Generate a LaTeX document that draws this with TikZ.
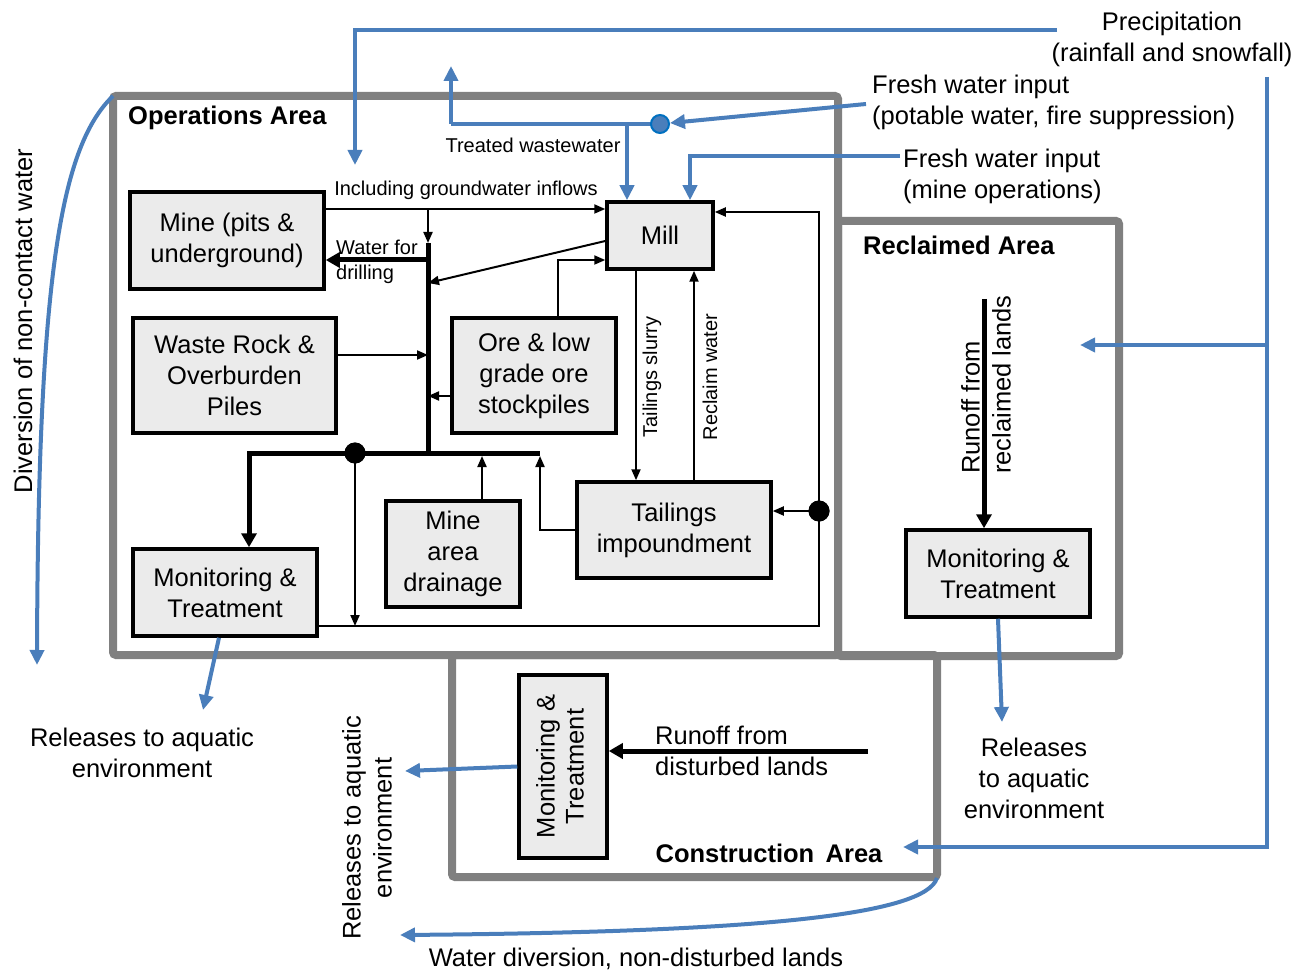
\documentclass[tikz,border=0pt]{standalone}
\usepackage{fontspec}
\setmainfont{Liberation Sans}
\usetikzlibrary{arrows.meta}
\definecolor{flowblue}{RGB}{74,126,187}
\definecolor{areagray}{RGB}{128,128,128}
\definecolor{boxfill}{RGB}{235,235,235}
\definecolor{valveedge}{RGB}{0,112,192}
\begin{document}
\begin{tikzpicture}[x=1pt, y=-1pt,
  font=\fontsize{25.5}{31}\selectfont,
  area/.style={draw=areagray, line width=8pt, rounded corners=3pt},
  stage/.style={draw=black, line width=3.5pt, fill=boxfill, align=center, inner sep=0pt},
  flow/.style={line width=2pt, -{Triangle[length=11pt,width=9pt]}},
  bus/.style={line width=5pt},
  busarr/.style={line width=5pt, -{Triangle[length=14pt,width=15pt]}},
  wline/.style={draw=flowblue, line width=4pt},
  wflow/.style={wline, -{Triangle[length=15pt,width=14pt]}},
  junction/.style={circle, fill=black, minimum size=21pt, inner sep=0pt},
  valve/.style={circle, fill=flowblue, draw=valveedge, line width=2pt, minimum size=18pt, inner sep=0pt},
  note/.style={font=\fontsize{20}{25}\selectfont, inner sep=0pt},
  txt/.style={inner sep=0pt, align=center},
  areaname/.style={font=\bfseries\fontsize{25.5}{30}\selectfont, inner sep=0pt}
]
\useasboundingbox (0,0) rectangle (1308,973);

% site areas
\draw[area] (113,96) rectangle (838,655);
\draw[area] (838,221) rectangle (1119,656);
\draw[area] (452,655) rectangle (937,877);

\node[areaname, anchor=west] (opsname) at (128,118) {Operations Area};
\node[areaname, anchor=west] (recname) at (863,245) {Reclaimed Area};
\node[areaname] (conname) at (769,853) {Construction\hspace{0.45em}Area};

% facilities
\node[stage, minimum width=194pt, minimum height=97pt] (mine) at (227,240.5) {Mine (pits \&\\underground)};
\node[stage, minimum width=203pt, minimum height=115pt] (waste) at (234.5,375.5) {Waste Rock \&\\Overburden\\Piles};
\node[stage, minimum width=164pt, minimum height=115pt] (ore) at (534,375.5) {Ore \& low\\grade ore\\stockpiles};
\node[stage, minimum width=106pt, minimum height=67pt] (mill) at (660,235.5) {Mill};
\node[stage, minimum width=194pt, minimum height=96pt] (tail) at (674,530) {Tailings\\impoundment};
\node[stage, minimum width=134pt, minimum height=106pt] (drain) at (453,554) {Mine\\area\\drainage};
\node[stage, minimum width=184pt, minimum height=87pt] (mtops) at (225,592.5) {Monitoring \&\\Treatment};
\node[stage, minimum width=184pt, minimum height=87pt] (mtrec) at (998,573.5) {Monitoring \&\\Treatment};
\node[stage, minimum width=88pt, minimum height=183pt] (mtcon) at (563,766.5)
  {\rotatebox{90}{\begin{tabular}{@{}c@{}}Monitoring \&\\[-2pt]Treatment\end{tabular}}};

% junction points of the operations water circuit
\coordinate (gw) at (428,209);
\coordinate (bt) at (428,243);
\coordinate (dr) at (428,260);
\coordinate (mr0) at (600,241);
\coordinate (mr) at (428,283);
\coordinate (wr) at (428,355);
\coordinate (orr) at (428,396);
\coordinate (bb) at (428,453);
\coordinate (hl) at (249,453);
\coordinate (hr) at (540,453);
\coordinate (drn) at (482,456);
\coordinate (tl) at (540,530);
\coordinate (tlt) at (540,456);
\coordinate (os) at (558,260);
\coordinate (rc1) at (819,626);
\coordinate (rc2) at (819,212);
\coordinate (ts) at (636,400);
\coordinate (rw) at (694,400);
\node[junction] (j1) at (355,453) {};
\node[junction] (j2) at (819,511) {};

% operations water circuit
\draw[flow] (mine.east |- gw) -- (mill.west |- gw);
\draw[flow] (gw) -- (bt);
\draw[bus] (bt) -- (bb);
\draw[busarr] (dr) -- (mine.east |- dr);
\draw[flow] (mill.west |- mr0) -- (mr);
\draw[flow] (waste.east |- wr) -- (wr);
\draw[flow] (ore.west |- orr) -- (orr);
\draw[flow] (ore.north -| os) -- (os) -- (mill.west |- os);
\draw[busarr] (hr) -- (hl) -- (mtops.north -| hl);
\draw[flow] (drain.north -| drn) -- (drn);
\draw[flow] (tail.west |- tl) -- (tl) -- (tlt);
\draw[flow] (j1.center) -- (j1.center |- rc1);
\draw[flow] (mtops.east |- rc1) -- (rc1) -- (rc2) -- (mill.east |- rc2);
\draw[flow] (j2.center) -- (tail.east |- j2);
\draw[flow] (mill.south -| ts) -- (tail.north -| ts);
\draw[flow] (tail.north -| rw) -- (mill.south -| rw);
\node[junction] at (j1) {};
\node[junction] at (j2) {};

\node[note] (inflow) at (466,190) {Including groundwater inflows};
\node[note, anchor=west, align=left] (drill) at (336,261.5) {Water for\\drilling};
\node[note, rotate=90] (slurry) at (652,377) {Tailings slurry};
\node[note, rotate=90] (reclaim) at (710,377) {Reclaim water};
\node[note] (treated) at (533,145) {Treated wastewater};

% precipitation and fresh water
\node[txt] (precip) at (1172,39) {Precipitation\\(rainfall and snowfall)};
\coordinate (pp) at (1057,30);
\coordinate (pc) at (355,30);
\coordinate (pt) at (355,165);
\draw[wflow] (pp) -- (pc) -- (pt);
\coordinate (rt) at (1267,77);
\coordinate (rb) at (1267,847);
\coordinate (rbt) at (903,847);
\coordinate (rm) at (1267,345);
\coordinate (rmt) at (1080,345);
\draw[wflow] (rt) -- (rb) -- (rbt);
\draw[wflow] (rm) -- (rmt);

\node[txt, anchor=west, align=left] (fresh1) at (872,102) {Fresh water input\\(potable water, fire suppression)};
\node[txt, anchor=west, align=left] (fresh2) at (903,176) {Fresh water input\\(mine operations)};
\coordinate (fw1) at (866,104);
\coordinate (tw1) at (451,124);
\coordinate (tw2) at (451,66);
\coordinate (tw3) at (627,124);
\coordinate (fw2) at (900,156);
\coordinate (fw3) at (690,156);
\draw[wline] (660,124) coordinate (vc) -- (tw1);
\draw[wflow] (tw1) -- (tw2);
\draw[wflow] (tw3) -- (mill.north -| tw3);
\node[valve] (vb) at (vc) {};
\draw[wflow] (fw1) -- (vb);
\draw[wflow] (fw2) -- (fw3) -- (mill.north -| fw3);

% diversions and releases
\coordinate (dv0) at (113,96);
\coordinate (dv1) at (37,665);
\draw[wflow] (dv0) .. controls (62,145) and (38,270) .. (dv1);
\node[txt, rotate=90] (divtext) at (23,321) {Diversion of non-contact water};

\coordinate (r1) at (203,710);
\draw[wflow] ([xshift=-6pt]mtops.south) -- (r1);
\node[txt] (rel1) at (142,753) {Releases to aquatic\\environment};

\coordinate (r2) at (1002,722);
\draw[wflow] (mtrec.south) -- (r2);
\node[txt] (rel2) at (1034,778) {Releases\\to aquatic\\environment};

\coordinate (r3) at (405,771);
\draw[wflow] (mtcon.west) -- (r3);
\node[txt, rotate=90] (rel3) at (367,828) {Releases to aquatic\\environment};

\coordinate (cd0) at (937,878);
\coordinate (cd1) at (400,935);
\draw[wflow] (cd0) .. controls (925,915) and (760,932) .. (cd1);
\node[txt] (divtext2) at (636,959) {Water diversion, non-disturbed lands};

% runoff
\coordinate (ro1) at (868,751);
\draw[busarr] (ro1) -- (mtcon.east |- ro1);
\node[txt, anchor=west, align=left] (runoff1) at (655,751) {Runoff from\\disturbed lands};
\coordinate (ro2) at (984,299);
\draw[busarr] (ro2) -- (mtrec.north -| ro2);
\node[txt, rotate=90, anchor=west, align=left] (runoff2) at (986,474) {Runoff from\\reclaimed lands};
\end{tikzpicture}
\end{document}
